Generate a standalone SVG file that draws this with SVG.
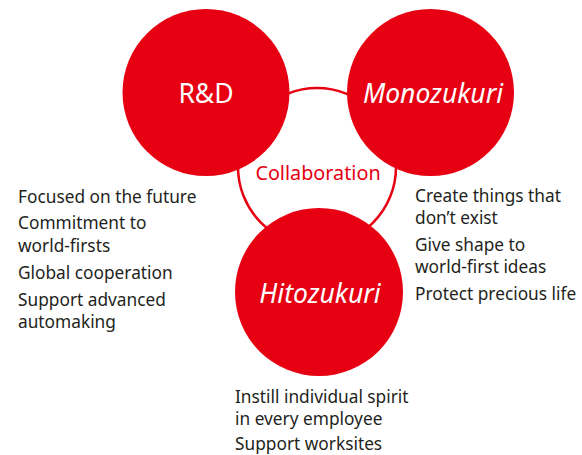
<svg xmlns="http://www.w3.org/2000/svg" width="582" height="455" viewBox="0 0 582 455">
<style>
.dot{fill:#E60012}
.lbl{fill:#fff;font-family:"Noto Sans","Open Sans",sans-serif;font-size:26.5px;text-anchor:middle}
.it{font-style:italic}
.txt{fill:#231f20;font-family:"Noto Sans","Open Sans",sans-serif;font-size:17.3px}
.col{fill:#E60012;font-family:"Noto Sans","Open Sans",sans-serif;font-size:19.8px;text-anchor:middle}
</style>
<rect width="582" height="455" fill="#fff"/>
<g id="collaboration">
<circle cx="317" cy="167" r="79" fill="#fff" stroke="#E60012" stroke-width="2.5"/>
<text class="col" x="318" y="180">Collaboration</text>
</g>
<g id="rd">
<circle class="dot" cx="206" cy="92.5" r="83.5"/>
<text class="lbl" x="206" y="103">R&amp;D</text>
<text class="txt"><tspan x="18" y="203">Focused on the future</tspan><tspan x="18" y="229">Commitment to</tspan><tspan x="18" y="252">world-firsts</tspan><tspan x="18" y="279">Global cooperation</tspan><tspan x="18" y="306">Support advanced</tspan><tspan x="18" y="328">automaking</tspan></text>
</g>
<g id="monozukuri">
<circle class="dot" cx="430.5" cy="92.5" r="83.5"/>
<text class="lbl it" x="433" y="103">Monozukuri</text>
<text class="txt"><tspan x="415" y="202">Create things that</tspan><tspan x="415" y="224">don’t exist</tspan><tspan x="415" y="251">Give shape to</tspan><tspan x="415" y="273">world-first ideas</tspan><tspan x="415" y="300">Protect precious life</tspan></text>
</g>
<g id="hitozukuri">
<circle class="dot" cx="319" cy="292" r="84"/>
<text class="lbl it" x="320" y="303">Hitozukuri</text>
<text class="txt"><tspan x="235" y="403">Instill individual spirit</tspan><tspan x="235" y="425">in every employee</tspan><tspan x="235" y="450">Support worksites</tspan></text>
</g>
</svg>
